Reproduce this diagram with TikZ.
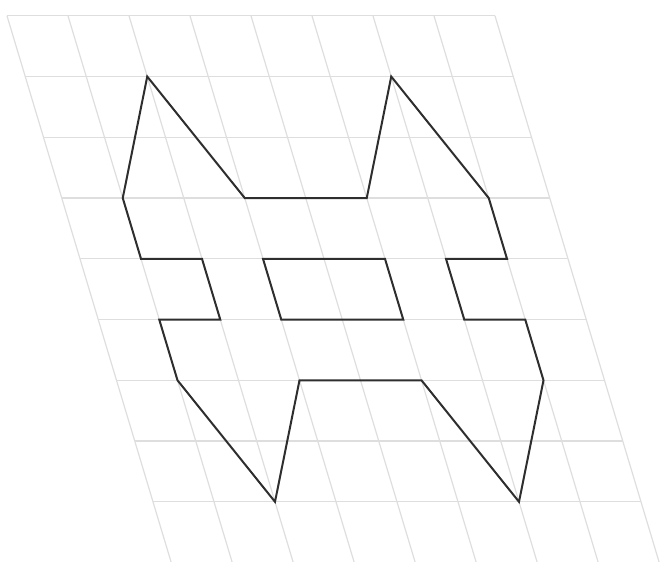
\documentclass[tikz,border=0pt]{standalone}
\begin{document}
\begin{tikzpicture}[x=1pt,y=1pt,
  gridline/.style={draw=black!13, line width=1.2pt},
  outline/.style={draw=black!82, line width=2pt, line join=miter}]
\useasboundingbox (0,0) rectangle (667,-562);
\begin{scope}[shift={(7pt,-15.8pt)}, x={(61pt,0pt)}, y={(18.25pt,-60.75pt)}]
  \foreach \r in {0,...,9} \draw[gridline] (0,\r) -- (8,\r);
  \foreach \c in {0,...,8} \draw[gridline] (\c,0) -- (\c,9);
  \draw[outline] (2,1) -- (3,3) -- (5,3) -- (6,1) -- (7,3) -- (7,4) -- (6,4) -- (6,5)
    -- (7,5) -- (7,6) -- (6,8) -- (5,6) -- (3,6) -- (2,8) -- (1,6) -- (1,5) -- (2,5)
    -- (2,4) -- (1,4) -- (1,3) -- cycle;
  \draw[outline] (3,4) -- (5,4) -- (5,5) -- (3,5) -- cycle;
\end{scope}
\end{tikzpicture}
\end{document}
